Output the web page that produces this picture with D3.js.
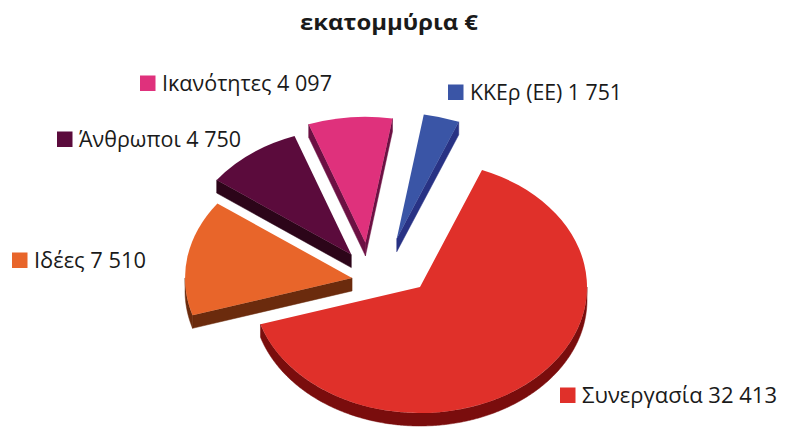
<!DOCTYPE html>
<html><head><meta charset="utf-8">
<script src="https://cdn.jsdelivr.net/npm/d3@7"></script>
<style>html,body{margin:0;padding:0;background:#fff;} svg{display:block;}</style>
</head><body>
<svg id="chart" width="790" height="437"></svg>
<script>
// ---- data ----
const title = "εκατομμύρια €";
const categories = ["Συνεργασία", "Ιδέες", "Άνθρωποι", "Ικανότητες", "ΚΚΕρ (ΕΕ)"];
const values = [32413, 7510, 4750, 4097, 1751];
const valueLabels = ["32 413", "7 510", "4 750", "4 097", "1 751"];

// ---- styles ----
const topColors = ["#e0302a", "#e8652a", "#5b0b3c", "#df317c", "#3a55a6"];
const sideColors = ["#7a0d0d", "#6b2b0d", "#2c0519", "#6c1043", "#283284"];

// ---- layout ----
const explode = [{r: 0, a: 0}, {r: 69, a: 280}, {r: 81, a: 302}, {r: 80, a: 317}, {r: 68, a: 340}];
const legendPos = [
  {x: 560, y: 403, w: 195},
  {x: 12, y: 268, w: 112},
  {x: 57, y: 147, w: 162},
  {x: 140, y: 91, w: 170},
  {x: 448, y: 100, w: 152}
];

const svg = d3.select("#chart");
const cx = 420, cy = 287, rx = 167, k = 0.7545, depth = 13;
const toRad = d => d * Math.PI / 180;
const start = toRad(21.8);

const pie = d3.pie().sort(null).startAngle(start).endAngle(start + 2 * Math.PI);
const arcs = pie(values).map((d, i) => {
  const e = explode[i];
  return Object.assign({}, d, {
    i,
    ax: cx + e.r * Math.sin(toRad(e.a)),
    ay: cy - e.r * Math.cos(toRad(e.a)) * k
  });
});

const P = (d, t, r, dz) => [d.ax + r * Math.sin(t), d.ay - r * Math.cos(t) * k + dz];
const line = d3.line();
const arcGen = d3.arc().innerRadius(0).outerRadius(rx);

const g = svg.append("g");
arcs.slice().sort((a, b) => a.ay - b.ay).forEach(d => {
  const sg = g.append("g");
  const a0 = d.startAngle, a1 = d.endAngle;
  const side = sideColors[d.i];
  const quad = (p, q) => {
    sg.append("path")
      .attr("d", line([p, q, [q[0], q[1] + depth], [p[0], p[1] + depth]]) + "Z")
      .attr("fill", side).attr("stroke", side).attr("stroke-width", 0.5);
  };
  if (Math.sin(a0) < 0) quad(P(d, a0, 0, 0), P(d, a0, rx, 0));
  if (Math.sin(a1) > 0) quad(P(d, a1, 0, 0), P(d, a1, rx, 0));
  for (let n = -1; n <= 2; n++) {
    const lo = Math.max(a0, Math.PI / 2 + 2 * Math.PI * n);
    const hi = Math.min(a1, 1.5 * Math.PI + 2 * Math.PI * n);
    if (hi > lo) {
      const N = Math.max(2, Math.ceil((hi - lo) / 0.01));
      const top = d3.range(N + 1).map(j => P(d, lo + (hi - lo) * j / N, rx, 0));
      const bot = top.map(p => [p[0], p[1] + depth]).reverse();
      sg.append("path").attr("d", line(top.concat(bot)) + "Z")
        .attr("fill", side).attr("stroke", side).attr("stroke-width", 0.5);
    }
  }
  sg.append("path")
    .attr("transform", `translate(${d.ax},${d.ay}) scale(1,${k})`)
    .attr("d", arcGen(d))
    .attr("fill", topColors[d.i]);
});

// title
svg.append("text")
  .attr("x", 389).attr("y", 30)
  .attr("text-anchor", "middle")
  .attr("font-family", "'Open Sans', sans-serif")
  .attr("font-weight", "bold").attr("font-size", 22)
  .attr("fill", "#1a1a1a")
  .attr("textLength", 178).attr("lengthAdjust", "spacingAndGlyphs")
  .text(title);

// labels
const lg = svg.append("g");
categories.forEach((c, i) => {
  const p = legendPos[i];
  lg.append("rect")
    .attr("x", p.x).attr("y", p.y - 15.5)
    .attr("width", 15.5).attr("height", 15.5)
    .attr("fill", topColors[i]);
  lg.append("text")
    .attr("x", p.x + 22).attr("y", p.y)
    .attr("font-family", "'Open Sans', sans-serif")
    .attr("font-size", 21)
    .attr("fill", "#1a1a1a")
    .attr("textLength", p.w).attr("lengthAdjust", "spacingAndGlyphs")
    .text(c + " " + valueLabels[i]);
});
</script>
</body></html>
